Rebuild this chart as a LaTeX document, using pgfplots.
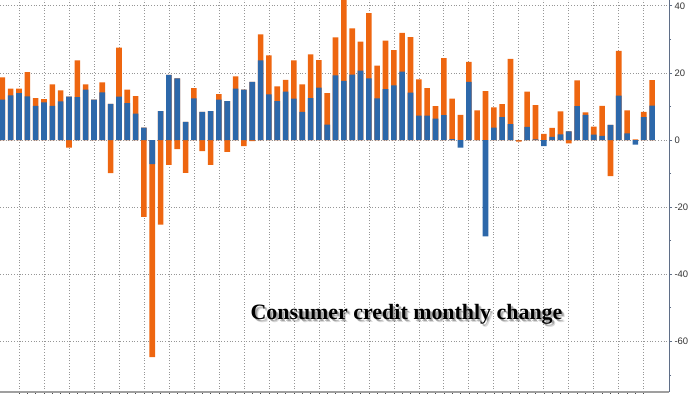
\documentclass[border=0pt]{standalone}
\usepackage{pgfplots}
\pgfplotsset{compat=1.18}
\usepackage{pgfplotstable}
\usepackage{fontspec}
\setmainfont{Liberation Serif}
\newfontfamily\labfont{Liberation Sans}
\usetikzlibrary{shapes.symbols}
\definecolor{bblue}{RGB}{45,104,170}
\definecolor{borange}{RGB}{238,102,16}
\definecolor{axcol}{RGB}{95,110,135}
\definecolor{gridcol}{RGB}{150,150,150}

% i = month index, b = blue component, top = top of positive stack, bot = bottom of negative stack
\pgfplotstableread{
i b top bot
1 12.0 18.7 0
2 13.3 15.3 0
3 14.0 15.3 0
4 13.0 20.2 0
5 10.2 12.5 0
6 11.2 12.2 0
7 10.2 16.6 0
8 11.5 14.8 0
9 12.9 12.9 -2.3
10 12.8 23.7 0
11 15.0 16.6 0
12 12.0 12.0 0
13 14.2 17.2 0
14 10.8 10.8 -9.9
15 12.9 27.5 0
16 11.0 15.0 0
17 7.9 13.1 0
18 3.7 3.7 -22.9
19 -7.2 0 -64.7
20 8.6 8.6 -25.2
21 19.4 19.4 -7.4
22 18.4 18.4 -2.7
23 5.4 5.4 -9.8
24 12.4 15.5 0
25 8.4 8.4 -3.3
26 8.6 8.6 -7.4
27 12.0 13.7 0
28 11.6 11.6 -3.5
29 15.3 19.0 0
30 15.0 15.0 -1.8
31 17.3 17.3 -0.3
32 23.7 31.5 0
33 13.6 25.2 0
34 11.6 16.0 0
35 14.4 17.9 0
36 12.3 23.7 0
37 8.4 16.6 0
38 12.5 25.5 0
39 15.6 23.8 0
40 4.6 14.0 0
41 19.3 30.6 0
42 17.6 41.8 0
43 19.5 33.3 0
44 20.7 29.3 0
45 18.4 37.8 0
46 12.4 22.2 0
47 15.2 29.6 0
48 16.3 26.8 0
49 20.4 31.9 0
50 14.1 30.7 0
51 7.3 18.1 0
52 7.3 15.5 0
53 6.4 10.1 0
54 7.4 24.4 0
55 0.3 12.3 0
56 -2.3 7.5 0
57 17.3 23.3 0
58 0 8.8 0
59 -28.7 14.6 0
60 3.7 9.7 0
61 6.8 10.7 0
62 4.7 24.2 0
63 0 0 -0.5
64 3.9 14.4 0
65 0.2 10.4 0
66 -1.8 1.8 0
67 0.9 3.6 0
68 1.7 8.5 0
69 2.6 2.6 -1.0
70 10.1 17.8 0
71 7.5 8.2 0
72 1.6 4.0 0
73 1.2 10.2 0
74 4.5 4.5 -10.8
75 13.2 26.6 0
76 2.0 8.8 0
77 -1.4 0.2 0
78 6.8 8.4 0
79 10.247 17.873 0
}\data

\begin{document}
\begin{tikzpicture}
\useasboundingbox (0,0) rectangle (700bp,394bp);
\begin{axis}[
  at={(0bp,2bp)}, anchor=south west,
  scale only axis, width=669bp, height=392bp,
  xmin=0.72, xmax=81.03, ymin=-75.1, ymax=41.73,
  axis x line*=bottom, axis y line*=right,
  x axis line style={draw=gray!75, line width=1.6bp, -},
  y axis line style={draw=axcol, line width=0.8bp, -},
  xtick={3,6,...,78}, xticklabels={},
  minor x tick num=2,
  xtick align=inside,
  x tick style={draw=gray!60!black, line width=0.6bp},
  ytick={-60,-40,...,40},
  minor ytick={-70,-50,...,30},
  ytick align=outside,
  y tick style={draw=axcol, line width=0.7bp},
  major tick length=3bp, minor tick length=2.2bp,
  xmajorgrids, ymajorgrids,
  major grid style={draw=gridcol, line width=0.7bp, dash pattern=on 0.7bp off 2.1bp},
  /pgf/number format/assume math mode=true,
  yticklabel style={font=\labfont\fontsize{9.5}{10}\selectfont, text=black!80, xshift=-1bp},
  ybar,
  clip=true,
]
\addplot[fill=borange, draw=none, bar width=5.6bp, bar shift=0pt] table[x=i, y=top] {\data};
\addplot[fill=borange, draw=none, bar width=5.6bp, bar shift=0pt] table[x=i, y=bot] {\data};
\addplot[fill=bblue, draw=none, bar width=5.6bp, bar shift=0pt] table[x=i, y=b] {\data};

\node[signal, signal to=west, signal pointer angle=110, fill=borange, text=white,
  font=\labfont\fontsize{9}{9}\selectfont, inner xsep=2bp, inner ysep=1.2bp,
  minimum height=10bp, anchor=west, xshift=1.5bp]
  at (axis cs:81.03,17.873) {7.626};
\node[signal, signal to=west, signal pointer angle=110, fill=bblue, text=white,
  font=\labfont\fontsize{9}{9}\selectfont, inner xsep=2bp, inner ysep=1.2bp,
  minimum height=10bp, anchor=west, xshift=1.5bp]
  at (axis cs:81.03,10.247) {10.247};
\end{axis}
\node[anchor=base, font=\bfseries\fontsize{22}{22}\selectfont, text=black, opacity=0.25] at (408.5bp,72bp) {Consumer credit monthly change};
\node[anchor=base, font=\bfseries\fontsize{22}{22}\selectfont, text=black, opacity=0.15] at (409.5bp,71bp) {Consumer credit monthly change};
\node[anchor=base, font=\bfseries\fontsize{22}{22}\selectfont, text=black] at (406.5bp,74bp) {Consumer credit monthly change};
\end{tikzpicture}
\end{document}
